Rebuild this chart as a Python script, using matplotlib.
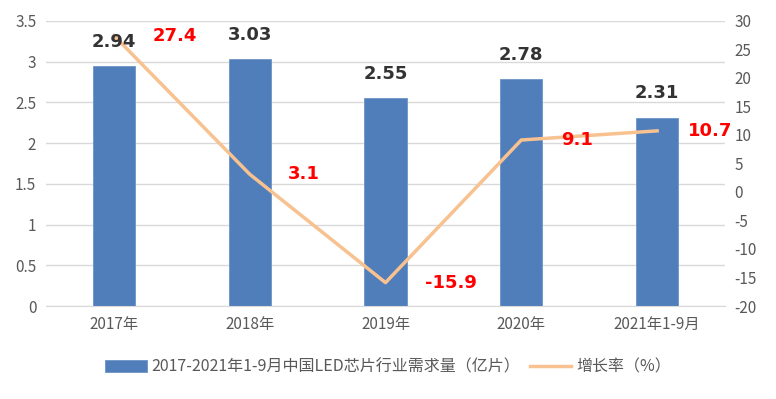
import matplotlib
matplotlib.use("Agg")
import matplotlib.pyplot as plt
import numpy as np

plt.rcParams['font.family'] = ['Noto Sans CJK SC', 'DejaVu Sans']
plt.rcParams['axes.unicode_minus'] = False

# =============================================================================
# DATA
# =============================================================================
categories = ['2017年', '2018年', '2019年', '2020年', '2021年1-9月']
demand     = [2.94, 3.03, 2.55, 2.78, 2.31]      # 亿片
growth     = [27.4, 3.1, -15.9, 9.1, 10.7]       # %
bar_name   = '2017-2021年1-9月中国LED芯片行业需求量（亿片）'
line_name  = '增长率（%）'

# label offsets for the red growth labels (points, right of the marker)
growth_dx  = [44, 39, 47, 40, 38]

BAR_C   = '#4F7EBB'
LINE_C  = '#F8C190'
TICK_C  = '#595959'
GRID_C  = '#D9D9D9'

# =============================================================================
# PLOT
# =============================================================================
fig = plt.figure(figsize=(7.76, 3.99), dpi=100)
ax = fig.add_axes([0.0593, 0.233, 0.875, 0.715])
x = np.arange(len(categories))

ax.bar(x, demand, width=0.31, color=BAR_C, edgecolor='#6D95C8',
       linewidth=0.6, label=bar_name, zorder=2)
ax.set_xlim(-0.5, len(categories) - 0.5)
ax.set_ylim(0, 3.5)
ax.set_yticks(np.arange(0, 3.51, 0.5))
ax.set_yticklabels(['0', '0.5', '1', '1.5', '2', '2.5', '3', '3.5'])
ax.set_xticks(x)
ax.set_xticklabels(categories)
ax.grid(axis='y', color=GRID_C, lw=1.0, zorder=0)
ax.set_axisbelow(True)
for s in ['top', 'right', 'left']:
    ax.spines[s].set_visible(False)
ax.spines['bottom'].set_color(GRID_C)
ax.tick_params(axis='both', length=0, colors=TICK_C, labelsize=11)
ax.tick_params(axis='x', pad=7)
ax.tick_params(axis='y', pad=7)

ax2 = ax.twinx()
ax2.plot(x, growth, color=LINE_C, lw=2.5, label=line_name, zorder=3)
ax2.set_ylim(-20, 30)
ax2.set_yticks(np.arange(-20, 31, 5))
for s in ['top', 'right', 'left', 'bottom']:
    ax2.spines[s].set_visible(False)
ax2.tick_params(axis='y', length=0, colors=TICK_C, labelsize=11, pad=7)

# bar value labels drawn on top of the line
for xi, v in zip(x, demand):
    ax2.annotate(f"{v:.2f}", (xi, v), xycoords=ax.transData,
                 xytext=(0, 11), textcoords='offset points',
                 ha='center', va='bottom', fontsize=13, fontweight='bold',
                 color='#333333', family=['DejaVu Sans'], zorder=5)

for xi, v, dx in zip(x, growth, growth_dx):
    ax2.annotate(f"{v}", (xi, v), xytext=(dx, 0), textcoords='offset points',
                 ha='center', va='center', fontsize=13, fontweight='bold',
                 color='#FF0000', family=['DejaVu Sans'], zorder=5)

h1, l1 = ax.get_legend_handles_labels()
h2, l2 = ax2.get_legend_handles_labels()
leg = fig.legend(h1 + h2, l1 + l2, loc='center', bbox_to_anchor=(0.5, 0.08),
                 ncol=2, frameon=False, fontsize=11.5, handlelength=2.6,
                 handleheight=0.8, columnspacing=0.6, handletextpad=0.3)
for t in leg.get_texts():
    t.set_color(TICK_C)

fig.savefig("out.png", dpi=100)
plt.close(fig)
